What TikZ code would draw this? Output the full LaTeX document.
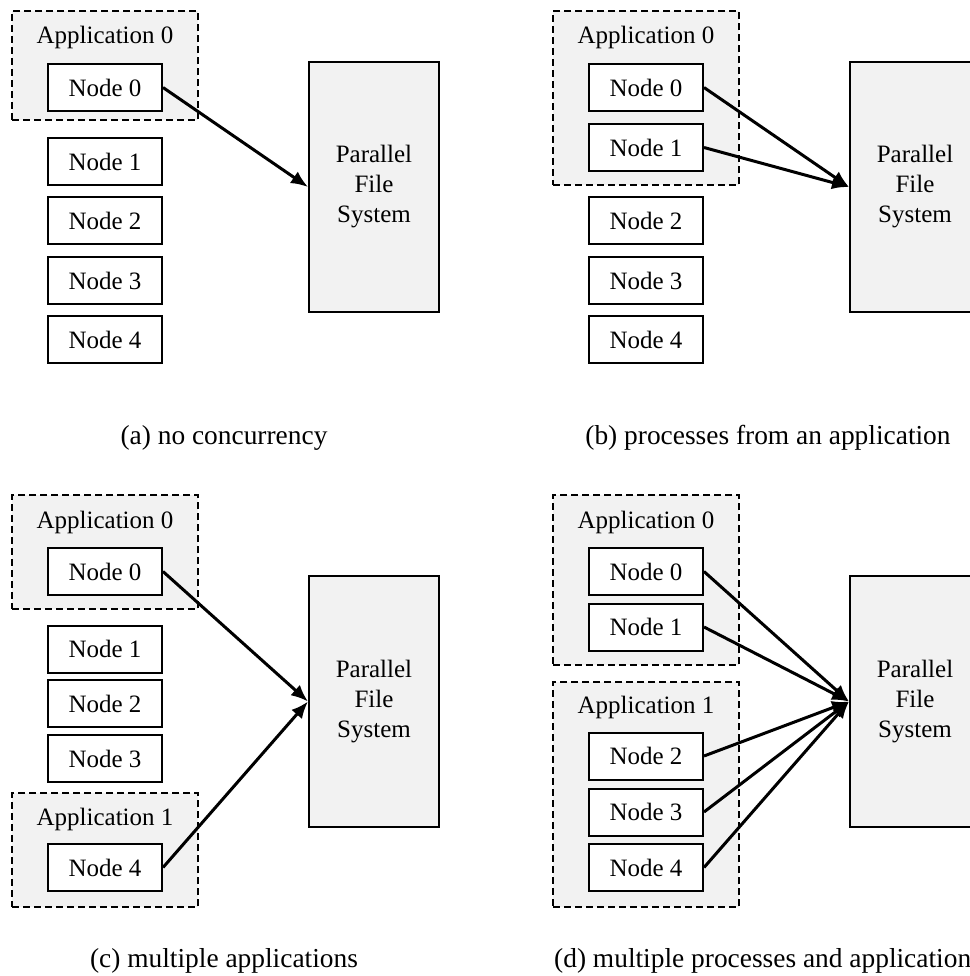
\documentclass[tikz,border=0pt]{standalone}
\usepackage{fontspec}
\setmainfont{Liberation Serif}
\usetikzlibrary{positioning,arrows.meta}
\definecolor{appgray}{RGB}{242,242,242}

\begin{document}
\begin{tikzpicture}[x=0.5pt,y=-0.5pt,
	every node/.style={font=\fontsize{12.5pt}{15pt}\selectfont,inner sep=0pt},
	nodebox/.style={draw,fill=white,line width=1pt,minimum width=57pt,minimum height=23.5pt},
	appbox/.style={draw,fill=appgray,dash pattern=on 3.5pt off 2pt,line width=1pt,minimum width=93pt},
	pfsbox/.style={draw,fill=appgray,line width=1pt,minimum width=65pt,minimum height=125pt,align=center},
	caption/.style={font=\fontsize{13.7pt}{16pt}\selectfont},
	io/.style={line width=1.5pt,-{Latex[length=8.5pt,width=7pt]}}]
	\useasboundingbox (0,0) rectangle (970,976);
	% (a) no concurrency
	\begin{scope}
		\node[appbox,minimum height=54.5pt] (a-app0) at (105,65.5) {};
		\node (a-lab0) at (105,37) {Application 0};
		\node[nodebox] (a-n0) at (105,87.5) {Node 0};
		\foreach \i/\y in {1/161.5,2/220.5,3/280.5,4/339.5}
			\node[nodebox] (a-n\i) at (105,\y) {Node \i};
		\node[pfsbox] (a-pfs) at (374,187) {Parallel\\File\\System};
		\draw[io] (a-n0.east) -- (a-pfs.west);
		\node[caption] (a-cap) at (224,438) {(a) no concurrency};
	\end{scope}
	% (b) processes from an application
	\begin{scope}[shift={(541,0)}]
		\node[appbox,minimum height=87pt] (b-app0) at (105,98) {};
		\node (b-lab0) at (105,37) {Application 0};
		\foreach \i/\y in {0/87.5,1/147.5,2/220.5,3/280.5,4/339.5}
			\node[nodebox] (b-n\i) at (105,\y) {Node \i};
		\node[pfsbox] (b-pfs) at (374,187) {Parallel\\File\\System};
		\foreach \i in {0,1}
			\draw[io] (b-n\i.east) -- (b-pfs.west);
		\node[caption] (b-cap) at (227,438) {(b) processes from an application};
	\end{scope}
	% (c) multiple applications
	\begin{scope}
		\node[appbox,minimum height=57pt] (c-app0) at (105,552) {};
		\node (c-lab0) at (105,522) {Application 0};
		\node[appbox,minimum height=57pt] (c-app1) at (105,850) {};
		\node (c-lab1) at (105,819) {Application 1};
		\foreach \i/\y in {0/571.5,1/649,2/703.5,3/758.5,4/867.5}
			\node[nodebox] (c-n\i) at (105,\y) {Node \i};
		\node[pfsbox,minimum height=125.5pt] (c-pfs) at (374,701.5) {Parallel\\File\\System};
		\foreach \i in {0,4}
			\draw[io] (c-n\i.east) -- (c-pfs.west);
		\node[caption] (c-cap) at (224,961) {(c) multiple applications};
	\end{scope}
	% (d) multiple processes and applications
	\begin{scope}[shift={(541,0)}]
		\node[appbox,minimum height=85pt] (d-app0) at (105,580) {};
		\node (d-lab0) at (105,522) {Application 0};
		\node[appbox,minimum height=112.5pt] (d-app1) at (105,794.5) {};
		\node (d-lab1) at (105,707) {Application 1};
		\foreach \i/\y in {0/571.5,1/627,2/756,3/812,4/867.5}
			\node[nodebox] (d-n\i) at (105,\y) {Node \i};
		\node[pfsbox,minimum height=125.5pt] (d-pfs) at (374,701.5) {Parallel\\File\\System};
		\foreach \i in {0,...,4}
			\draw[io] (d-n\i.east) -- (d-pfs.west);
		\node[caption] (d-cap) at (227,961) {(d) multiple processes and applications};
	\end{scope}
\end{tikzpicture}
\end{document}
